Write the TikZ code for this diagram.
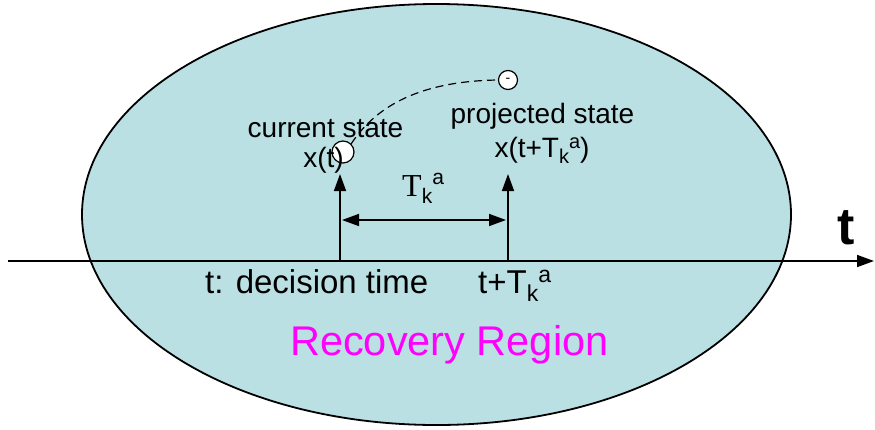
\documentclass[tikz,border=0pt]{standalone}
\usepackage{fontspec}
\setmainfont{Liberation Sans}
\newfontfamily\serifT{Liberation Serif}
\usetikzlibrary{arrows.meta}
\definecolor{regionfill}{RGB}{186,224,228}
\definecolor{regiontext}{RGB}{255,0,255}

\begin{document}
\begin{tikzpicture}[x=1pt, y=-1pt,
  lbl/.style={inner sep=0pt, font=\fontsize{28}{30}\selectfont},
  bigl/.style={inner sep=0pt, font=\fontsize{33}{35}\selectfont},
  state/.style={circle, draw, fill=white, line width=1.2pt, minimum size=22pt, inner sep=0pt},
  rel/.style={-{Triangle[length=17pt,width=12pt]}, line width=1.6pt},
  both/.style={{Triangle[length=17pt,width=12pt]}-{Triangle[length=17pt,width=12pt]}, line width=1.6pt}
]
\useasboundingbox (0,0) rectangle (875,429);

% recovery region
\draw[fill=regionfill, line width=1.8pt] (436.5,214.5) ellipse [x radius=354.5, y radius=210.5];

% time axis
\coordinate (axisL) at (8,261);
\coordinate (axisR) at (874,261);
\draw[rel] (axisL) -- (axisR);
\node[inner sep=0pt, anchor=base, font=\fontsize{52}{54}\selectfont\bfseries] (tlabel) at (846,244) {t};

% decision time and projection time
\coordinate (tnow) at (340,261);
\coordinate (nowtop) at (340,174);
\coordinate (tnext) at (508,261);
\coordinate (nexttop) at (508,174);
\draw[rel] (tnow) -- (nowtop);
\draw[rel] (tnext) -- (nexttop);

\coordinate (spanL) at (342,220);
\coordinate (spanR) at (506,220);
\draw[both] (spanL) -- (spanR);
\node[inner sep=0pt, anchor=base west] (span) at (402,196)
  {{\fontsize{32}{34}\selectfont\serifT T}{\fontsize{21}{22}\selectfont\raisebox{-7pt}{k}\raisebox{12pt}{a}}};

% states
\node[state] (cur) at (343,152) {};
\node[state, minimum size=19pt, font=\fontsize{14}{14}\selectfont] (proj) at (508,80) {-};
\draw[line width=1.2pt, dash pattern=on 8pt off 5pt] (cur.north east) .. controls (380,100) and (430,81) .. (proj.west);

\node[lbl, anchor=base] (curtxt) at (325.5,137) {current state};
\node[lbl, anchor=base] (curx) at (323.5,167) {x(t)};
\node[lbl, anchor=base] (projtxt) at (542.5,123) {projected state};
\node[lbl, anchor=base] (projx) at (542,157)
  {x(t+T{\fontsize{20}{20}\selectfont\raisebox{-6pt}{k}\raisebox{9pt}{a}})};

% axis labels
\node[bigl, anchor=base west] (nowtxt) at (205,293) {t: decision time};
\node[bigl, anchor=base west] (nexttxt) at (478,293)
  {t+T{\fontsize{23}{23}\selectfont\raisebox{-8pt}{k}\raisebox{11pt}{a}}};
\node[inner sep=0pt, anchor=base west, text=regiontext, font=\fontsize{41.5}{43}\selectfont] (region) at (290,355) {Recovery Region};
\end{tikzpicture}
\end{document}
